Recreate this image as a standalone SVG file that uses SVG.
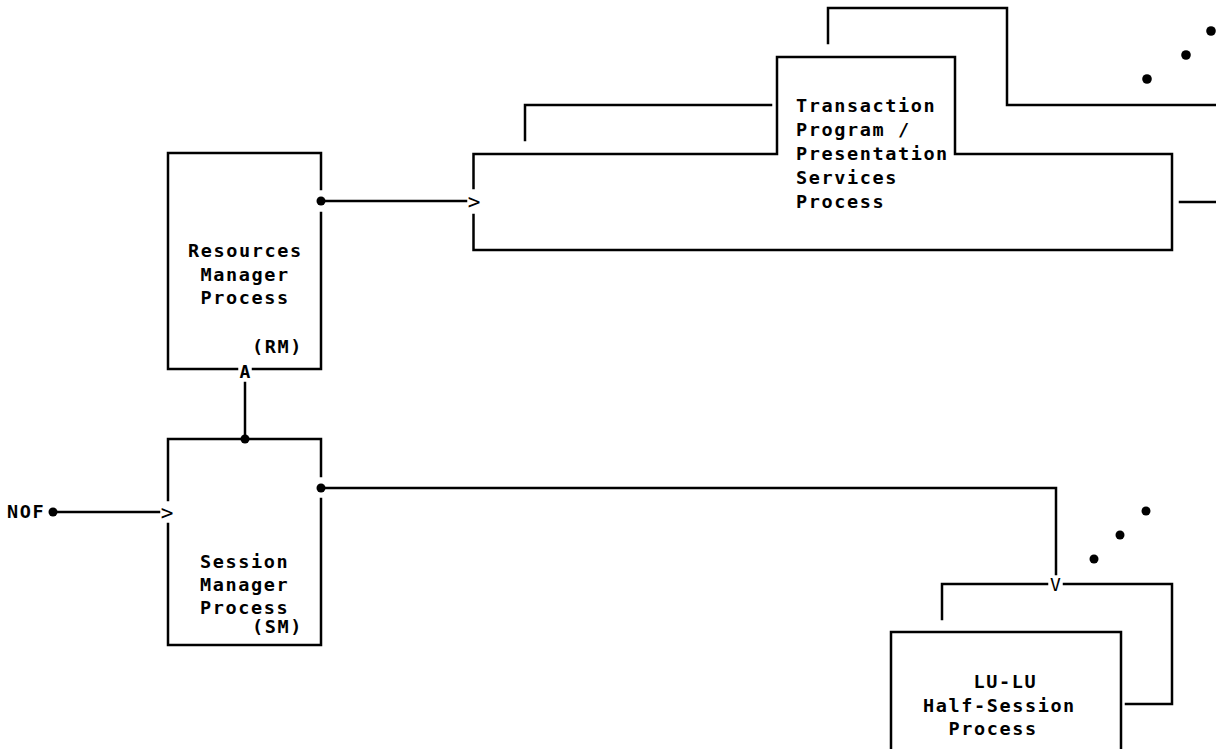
<svg xmlns="http://www.w3.org/2000/svg" width="1216" height="749" viewBox="0 0 1216 749">
<style>
.ln{fill:none;stroke:#000;stroke-width:2.5;stroke-linecap:square}
.t{font-family:"DejaVu Sans Mono","Liberation Mono",monospace;font-size:18.5px;font-weight:bold;letter-spacing:1.6px;fill:#000}
.ar{font-family:"DejaVu Sans Mono","Liberation Mono",monospace;font-size:21px;fill:#000;text-anchor:middle}
.dot{fill:#000}
</style>
<rect width="1216" height="749" fill="#fff"/>
<g id="tp-process">
<path class="ln" d="M525,140 V105 H771"/>
<path class="ln" d="M828,43 V8 H1007 V105 H1216"/>
<path class="ln" d="M473.5,188 V154 H777 V57 H955 V154 H1172 V250 H473.5 V215"/>
<text class="t" x="796" y="112">Transaction</text>
<text class="t" x="796" y="136">Program /</text>
<text class="t" x="796" y="160">Presentation</text>
<text class="t" x="796" y="184">Services</text>
<text class="t" x="796" y="208">Process</text>
<circle class="dot" cx="1147" cy="79" r="4.8"/>
<circle class="dot" cx="1186" cy="55" r="4.8"/>
<circle class="dot" cx="1211" cy="31" r="4.8"/>
</g>
<g id="rm-process">
<path class="ln" d="M321,189 V153 H168 V369 H237 M253,369 H321 V213"/>
<text class="t" x="188" y="257">Resources</text>
<text class="t" x="200.5" y="280.5">Manager</text>
<text class="t" x="200.5" y="304">Process</text>
<text class="t" x="252" y="353">(RM)</text>
</g>
<g id="sm-process">
<path class="ln" d="M168,500 V439 H321 V476 M321,499 V645 H168 V524"/>
<text class="t" x="200" y="568">Session</text>
<text class="t" x="200" y="591">Manager</text>
<text class="t" x="200" y="614">Process</text>
<text class="t" x="252" y="633">(SM)</text>
</g>
<g id="nof">
<text class="t" x="7" y="518">NOF</text>
</g>
<g id="lulu-process">
<path class="ln" d="M942,619 V584 H1047 M1064,584 H1172 V704 H1126"/>
<path class="ln" d="M891,760 V632 H1121 V760"/>
<text class="t" x="973.5" y="688">LU-LU</text>
<text class="t" x="923" y="711.5">Half-Session</text>
<text class="t" x="948.5" y="735">Process</text>
<circle class="dot" cx="1094" cy="559" r="4.5"/>
<circle class="dot" cx="1120" cy="535" r="4.5"/>
<circle class="dot" cx="1146" cy="511" r="4.5"/>
</g>
<g id="connectors">
<circle class="dot" cx="321" cy="201" r="4.5"/>
<path class="ln" d="M326,201 H466"/>
<text class="ar" x="474" y="208.5">&gt;</text>
<text class="ar" x="245" y="378" style="font-size:18px;font-weight:bold">A</text>
<path class="ln" d="M245,383 V434"/>
<circle class="dot" cx="245" cy="439" r="4.5"/>
<circle class="dot" cx="53" cy="512" r="4.5"/>
<path class="ln" d="M58,512 H159"/>
<text class="ar" x="167" y="519.5">&gt;</text>
<circle class="dot" cx="321" cy="488" r="4.5"/>
<path class="ln" d="M326,488 H1056 V574"/>
<text class="ar" x="1055.5" y="591" style="font-size:18px">V</text>
<path class="ln" d="M1180,202 H1216"/>
</g>
</svg>
